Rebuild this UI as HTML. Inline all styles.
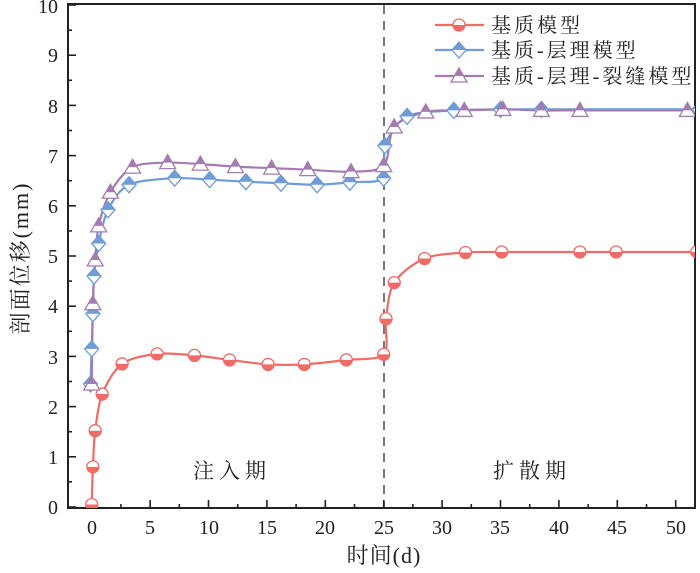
<!DOCTYPE html>
<html><head><meta charset="utf-8"><style>
html,body{margin:0;padding:0;background:#fff;width:700px;height:573px;overflow:hidden}
text{font-family:"Liberation Serif","Noto Serif CJK SC",serif;fill:#222}
</style></head><body>
<svg id="s" width="700" height="573" viewBox="0 0 700 573" xmlns="http://www.w3.org/2000/svg">
<defs>
<clipPath id="cp"><rect x="68" y="4" width="627" height="504"/></clipPath>
</defs>
<rect x="68" y="4" width="627" height="504" fill="none" stroke="#222" stroke-width="2"/>
<line x1="384" y1="5" x2="384" y2="507" stroke="#777" stroke-width="2" stroke-dasharray="9,7"/>
<g id="ticks" stroke="#222" stroke-width="1.6"></g>
<g font-size="20" text-anchor="end">
<text x="58" y="514">0</text><text x="58" y="464">1</text><text x="58" y="414">2</text><text x="58" y="364">3</text><text x="58" y="313">4</text><text x="58" y="263">5</text><text x="58" y="213">6</text><text x="58" y="163">7</text><text x="58" y="113">8</text><text x="58" y="62">9</text><text x="58" y="13">10</text>
</g>
<g font-size="20" text-anchor="middle">
<text x="92" y="534">0</text><text x="150" y="534">5</text><text x="209" y="534">10</text><text x="267" y="534">15</text><text x="325" y="534">20</text><text x="384" y="534">25</text><text x="442" y="534">30</text><text x="500" y="534">35</text><text x="559" y="534">40</text><text x="617" y="534">45</text><text x="676" y="534">50</text>
<text x="384" y="563" font-size="22" letter-spacing="1">时间(d)</text>
<text x="232" y="478" font-size="21" letter-spacing="5">注入期</text>
<text x="532" y="478" font-size="21" letter-spacing="5">扩散期</text>
<text transform="translate(28,258) rotate(-90)" font-size="22" letter-spacing="2">剖面位移(mm)</text>
</g>
<g id="series" clip-path="url(#cp)"></g>
<g id="legend"></g>
<g font-size="20" letter-spacing="3">
<text x="491" y="32">基质模型</text>
<text x="491" y="57">基质-层理模型</text>
<text x="491" y="83">基质-层理-裂缝模型</text>
</g>
</svg>
<script>
var NS="http://www.w3.org/2000/svg";
function X(x){return 91.7+11.68*x}function Y(y){return 507-50.2*y}
function el(t,a,p){var e=document.createElementNS(NS,t);for(var k in a)e.setAttribute(k,a[k]);p.appendChild(e);return e}
var tk=document.getElementById('ticks');
for(var i=0;i<=20;i++){var y=Y(i/2),l=i%2?4:8;el('line',{x1:68,y1:y,x2:68+l,y2:y},tk)}
for(var i=-0;i<=21;i++){var xv=i*2.5;var x=X(xv);if(x>694)break;var l=i%2?4:8;el('line',{x1:x,y1:508,x2:x,y2:508-l},tk)}
var red=[[0,0.05],[0.1,0.8],[0.3,1.52],[0.9,2.25],[2.6,2.85],[5.6,3.05],[8.8,3.02],[11.8,2.93],[15.1,2.84],[18.2,2.84],[21.8,2.93],[25,3.04],[25.2,3.75],[25.9,4.47],[28.5,4.95],[32,5.07],[35.1,5.08],[41.8,5.08],[44.9,5.08],[51.8,5.08]];
var blue=[[-0.1,2.45],[0,3.15],[0.1,3.85],[0.2,4.6],[0.6,5.25],[1.4,5.92],[3.2,6.42],[7.1,6.55],[10.1,6.52],[13.2,6.48],[16.2,6.45],[19.3,6.42],[22.1,6.47],[25,6.55],[25.1,7.2],[27,7.78],[31,7.9],[35,7.92],[38.5,7.92],[52,7.92]];
var pur=[[0,2.45],[0.1,4.05],[0.3,4.92],[0.6,5.6],[1.6,6.27],[3.5,6.77],[6.5,6.86],[9.3,6.83],[12.3,6.78],[15.4,6.75],[18.5,6.72],[22.2,6.68],[25,6.8],[25.9,7.57],[28.6,7.87],[31.9,7.9],[35.2,7.92],[38.5,7.9],[41.8,7.9],[51,7.9],[54,7.9]];
var S=document.getElementById('series'),L=document.getElementById('legend');
function path(d,c){var P=d.map(function(p){return[X(p[0]),Y(p[1])]});var s='M'+P[0][0]+','+P[0][1];
 for(var i=0;i<P.length-1;i++){var p0=P[i-1]||P[i],p1=P[i],p2=P[i+1],p3=P[i+2]||p2;var t=0.15;
 s+='C'+(p1[0]+(p2[0]-p0[0])*t).toFixed(1)+','+(p1[1]+(p2[1]-p0[1])*t).toFixed(1)+' '+(p2[0]-(p3[0]-p1[0])*t).toFixed(1)+','+(p2[1]-(p3[1]-p1[1])*t).toFixed(1)+' '+p2[0].toFixed(1)+','+p2[1].toFixed(1)}
 el('path',{d:s,fill:'none',stroke:c,'stroke-width':2.2,'stroke-linejoin':'round'},S)}
function marker(type,x,y,c,g){
 if(type=='c'){el('circle',{cx:x,cy:y,r:6,fill:'#fff',stroke:c,'stroke-width':1.3},g);el('path',{d:'M'+(x-6)+','+y+'A6,6 0 0 0 '+(x+6)+','+y+'Z',fill:c},g)}
 else if(type=='d'){el('path',{d:'M'+x+','+(y-8)+'L'+(x+7)+','+y+'L'+x+','+(y+8)+'L'+(x-7)+','+y+'Z',fill:'#fff',stroke:c,'stroke-width':1.3},g);el('path',{d:'M'+x+','+(y-8)+'L'+(x+7)+','+y+'L'+(x-7)+','+y+'Z',fill:c},g)}
 else {el('path',{d:'M'+x+','+(y-8)+'L'+(x+8)+','+(y+6)+'L'+(x-8)+','+(y+6)+'Z',fill:'#fff',stroke:c,'stroke-width':1.3},g);el('path',{d:'M'+x+','+(y-8)+'L'+(x+4.6)+','+(y)+'L'+(x-4.6)+','+(y)+'Z',fill:c},g)}
}
var R='#ee6b66',B='#6f9bd6',P='#a57cb0';
path(red,R);path(blue,B);path(pur,P);
red.forEach(function(p){marker('c',X(p[0]),Y(p[1]),R,S)});
blue.forEach(function(p){marker('d',X(p[0]),Y(p[1]),B,S)});
pur.forEach(function(p){marker('t',X(p[0]),Y(p[1]),P,S)});
[[25,R,'c'],[50,B,'d'],[76,P,'t']].forEach(function(r){el('line',{x1:435,y1:r[0],x2:484,y2:r[0],stroke:r[1],'stroke-width':2.2},L);marker(r[2],459,r[0],r[1],L)});
</script>
</body></html>
